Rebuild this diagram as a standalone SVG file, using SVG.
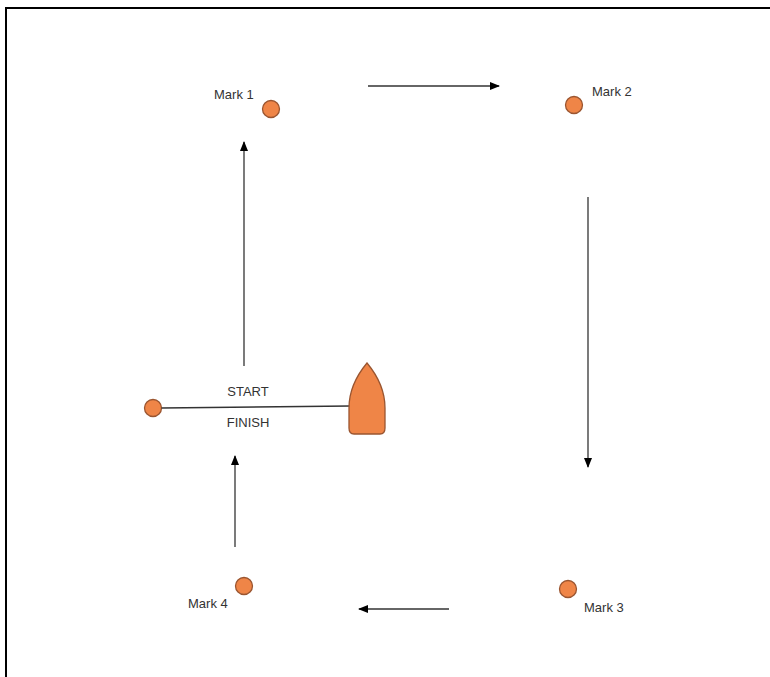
<svg xmlns="http://www.w3.org/2000/svg" width="770" height="677" viewBox="0 0 770 677">
<style>
.mark{fill:#ef8547;stroke:#9a5530;stroke-width:1.3}
.lbl{font-family:"Liberation Sans",Arial,sans-serif;font-size:13px;fill:#333}
.conn{stroke:#333;stroke-width:1.3;fill:none;marker-end:url(#ah)}
</style>
<defs>
<marker id="ah" viewBox="0 0 10 8" refX="9" refY="4" markerWidth="10" markerHeight="8" markerUnits="userSpaceOnUse" orient="auto">
<path d="M0,0 L10,4 L0,8 z" fill="#000"/>
</marker>
</defs>
<rect width="770" height="677" fill="#fff"/>
<rect x="6" y="8" width="800" height="700" fill="none" stroke="#000" stroke-width="2"/>
<g id="mark1"><circle class="mark" cx="271" cy="109" r="8.5"/><text class="lbl" x="214" y="99">Mark 1</text></g>
<g id="mark2"><circle class="mark" cx="574" cy="105" r="8.5"/><text class="lbl" x="592" y="96">Mark 2</text></g>
<g id="mark3"><circle class="mark" cx="568" cy="589" r="8.5"/><text class="lbl" x="584" y="612">Mark 3</text></g>
<g id="mark4"><circle class="mark" cx="244" cy="586" r="8.5"/><text class="lbl" x="188" y="608">Mark 4</text></g>
<g id="pin"><circle class="mark" cx="153" cy="408" r="8.5"/></g>
<g id="line"><line x1="161.5" y1="408" x2="350" y2="406" stroke="#333" stroke-width="1.3"/>
<text class="lbl" x="248" y="396" text-anchor="middle">START</text>
<text class="lbl" x="248" y="427" text-anchor="middle">FINISH</text></g>
<g id="boat"><path class="mark" d="M367,363 C377,375 385,390 385,408 L385,428 Q385,434 380,434 L354,434 Q349,434 349,428 L349,408 C349,390 357,375 367,363 Z"/></g>
<g id="connectors">
<line class="conn" x1="244" y1="366" x2="244" y2="142"/>
<line class="conn" x1="368" y1="86" x2="499" y2="86"/>
<line class="conn" x1="588" y1="197" x2="588" y2="467"/>
<line class="conn" x1="449" y1="609" x2="359" y2="609"/>
<line class="conn" x1="235" y1="547" x2="235" y2="456"/>
</g>
</svg>
